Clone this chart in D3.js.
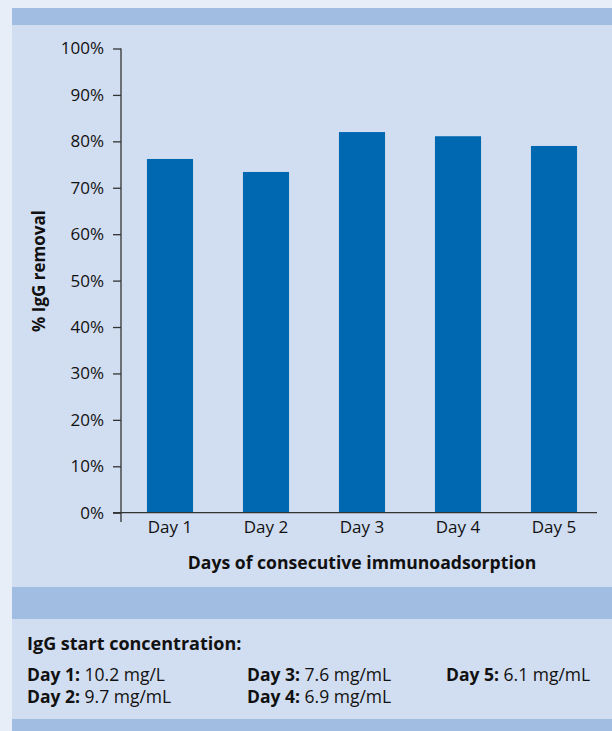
<!DOCTYPE html>
<html>
<head>
<meta charset="utf-8">
<script src="https://cdn.jsdelivr.net/npm/d3@7"></script>
<style>
  html, body { margin: 0; padding: 0; background: #e8eef8; }
  svg { display: block; font-family: "Open Sans", "Noto Sans", sans-serif; }
</style>
</head>
<body>
<div id="chart"></div>
<script>
// bar chart: % IgG removal per day
const days = ["Day 1", "Day 2", "Day 3", "Day 4", "Day 5"];
const removal = [76.2, 73.4, 82.0, 81.1, 79.0];
const yTicks = [0, 10, 20, 30, 40, 50, 60, 70, 80, 90, 100];
const concLabels = ["Day 1:", "Day 2:", "Day 3:", "Day 4:", "Day 5:"];
const concValues = ["10.2 mg/L", "9.7 mg/mL", "7.6 mg/mL", "6.9 mg/mL", "6.1 mg/mL"];

const width = 612, height = 731;
const panelColor = "#d1ddf0";
const bandColor = "#a2bde2";
const barColor = "#0067b1";
const axisColor = "#333";
const fs = 17;

const svg = d3.select("#chart").append("svg")
    .attr("width", width)
    .attr("height", height);

// panel + bands
svg.append("rect").attr("x", 12).attr("y", 8).attr("width", width - 12).attr("height", height - 8).attr("fill", panelColor);
svg.append("rect").attr("x", 12).attr("y", 8).attr("width", width - 12).attr("height", 17).attr("fill", bandColor);
svg.append("rect").attr("x", 12).attr("y", 587).attr("width", width - 12).attr("height", 32).attr("fill", bandColor);
svg.append("rect").attr("x", 12).attr("y", 719).attr("width", width - 12).attr("height", 12).attr("fill", bandColor);

const x = d3.scaleBand(days, [122, 602]).paddingInner(0.52).paddingOuter(0.26);
const y = d3.scaleLinear([0, 100], [512.7, 48.5]);

svg.append("g")
    .selectAll("rect")
    .data(days)
    .join("rect")
    .attr("x", d => x(d))
    .attr("y", (d, i) => y(removal[i]))
    .attr("width", x.bandwidth())
    .attr("height", (d, i) => y(0) - y(removal[i]))
    .attr("fill", barColor);

// y axis
const yAxis = d3.axisLeft(y).tickValues(yTicks).tickFormat(d => d + "%").tickSize(8).tickPadding(9);
svg.append("g")
    .attr("transform", "translate(121,0)")
    .call(yAxis)
    .attr("font-family", null)
    .attr("font-size", fs)
    .call(g => g.select(".domain").remove())
    .call(g => g.selectAll(".tick line").attr("stroke", axisColor).attr("stroke-width", 1.3))
    .call(g => g.selectAll(".tick text").attr("fill", "#111"));
svg.append("line")
    .attr("x1", 121).attr("x2", 121)
    .attr("y1", y(100)).attr("y2", 522)
    .attr("stroke", axisColor).attr("stroke-width", 1.3);

// x axis
svg.append("line")
    .attr("x1", 113).attr("x2", 597)
    .attr("y1", y(0)).attr("y2", y(0))
    .attr("stroke", axisColor).attr("stroke-width", 1.3);
svg.append("g")
    .selectAll("text")
    .data(days)
    .join("text")
    .attr("x", d => x(d) + x.bandwidth() / 2)
    .attr("y", 533)
    .attr("text-anchor", "middle")
    .attr("font-size", fs)
    .attr("fill", "#111")
    .text(d => d);

// axis titles
svg.append("text")
    .attr("x", 362).attr("y", 569)
    .attr("text-anchor", "middle")
    .attr("font-size", 17.6).attr("font-weight", "bold")
    .attr("fill", "#111")
    .text("Days of consecutive immunoadsorption");
svg.append("text")
    .attr("transform", "translate(45,271) rotate(-90)")
    .attr("text-anchor", "middle")
    .attr("font-size", 17).attr("font-weight", "bold")
    .attr("fill", "#111")
    .text("% IgG removal");

// footnote
svg.append("text")
    .attr("x", 27).attr("y", 650)
    .attr("font-size", 18).attr("font-weight", "bold")
    .attr("fill", "#111")
    .text("IgG start concentration:");

const colX = [27, 27, 247, 247, 446];
const rowY = [681, 703, 681, 703, 681];
const notes = svg.append("g")
    .selectAll("text")
    .data(concLabels)
    .join("text")
    .attr("x", (d, i) => colX[i])
    .attr("y", (d, i) => rowY[i])
    .attr("font-size", 17.5)
    .attr("fill", "#111");
notes.append("tspan").attr("font-weight", "bold").text(d => d + " ");
notes.append("tspan").text((d, i) => concValues[i]);
</script>
</body>
</html>
